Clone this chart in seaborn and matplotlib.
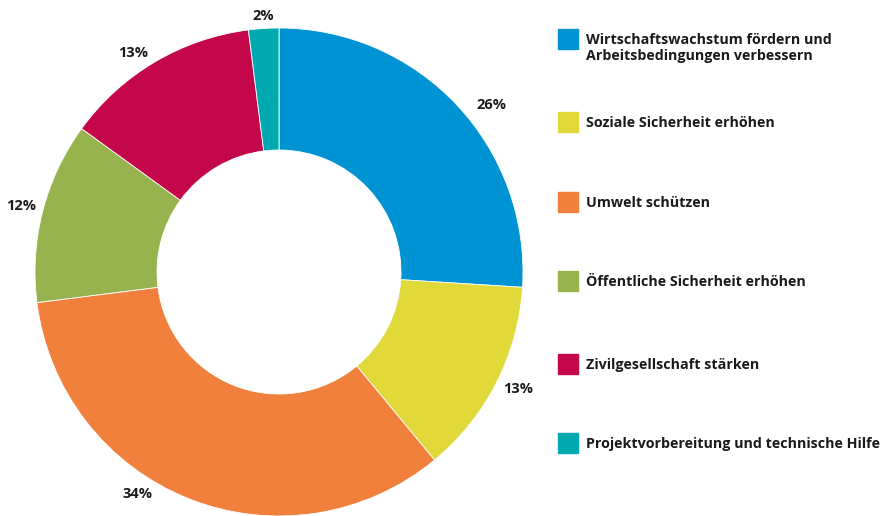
import numpy as np
import matplotlib.pyplot as plt
import seaborn as sns
from matplotlib.patches import Rectangle

# -------------------------------
# Data
# -------------------------------
categories = [
    "Wirtschaftswachstum fördern und\nArbeitsbedingungen verbessern",
    "Soziale Sicherheit erhöhen",
    "Umwelt schützen",
    "Öffentliche Sicherheit erhöhen",
    "Zivilgesellschaft stärken",
    "Projektvorbereitung und technische Hilfe",
]
shares = [26, 13, 34, 12, 13, 2]
colors = ["#0093D3", "#E1D83A", "#F0803C", "#97B34D", "#C4074B", "#00A9B0"]

sns.set_theme(style="white")
plt.rcParams["font.family"] = ["Open Sans", "DejaVu Sans"]

fig = plt.figure(figsize=(8.83, 5.16), dpi=100)

# donut, centre ~ (279, 272) px, radius ~244 px
ax = fig.add_axes([35 / 883, 0, 488 / 883, 488 / 516])
wedges, _ = ax.pie(
    shares,
    colors=sns.color_palette(colors),
    startangle=90,
    counterclock=False,
    radius=1,
    wedgeprops=dict(width=0.5, edgecolor="white", linewidth=0.6),
)

# percentage labels just outside the ring (small nudges as in the original)
nudge = [-5, 1, -11, 0, 3, 0]
dist = [1.11, 1.09, 1.08, 1.09, 1.08, 1.05]
for w, s, d, r in zip(wedges, shares, nudge, dist):
    ang = np.deg2rad((w.theta1 + w.theta2) / 2 + d)
    ax.text(r * np.cos(ang), r * np.sin(ang), f"{s}%",
            ha="center", va="center", fontsize=10.5, fontweight="bold",
            color="#1a1a1a")

ax.set_xlim(-1, 1)
ax.set_ylim(-1, 1)
ax.set_aspect("equal")
ax.axis("off")

# -------------------------------
# Legend (manual, boxes aligned to first text line)
# -------------------------------
leg_y = [39, 122, 202, 281, 364, 443]
for i, (lab, col) in enumerate(zip(categories, colors)):
    y = 1 - leg_y[i] / 516
    fig.patches.append(Rectangle((558 / 883, y - 10 / 516), 20 / 883, 20 / 516,
                                 transform=fig.transFigure, color=col))
    fig.text(586 / 883, y + 6 / 516, lab, fontsize=10.3, fontweight="bold",
             color="#1a1a1a", va="top", ha="left", linespacing=1.2)

fig.savefig("out.png", dpi=100)
